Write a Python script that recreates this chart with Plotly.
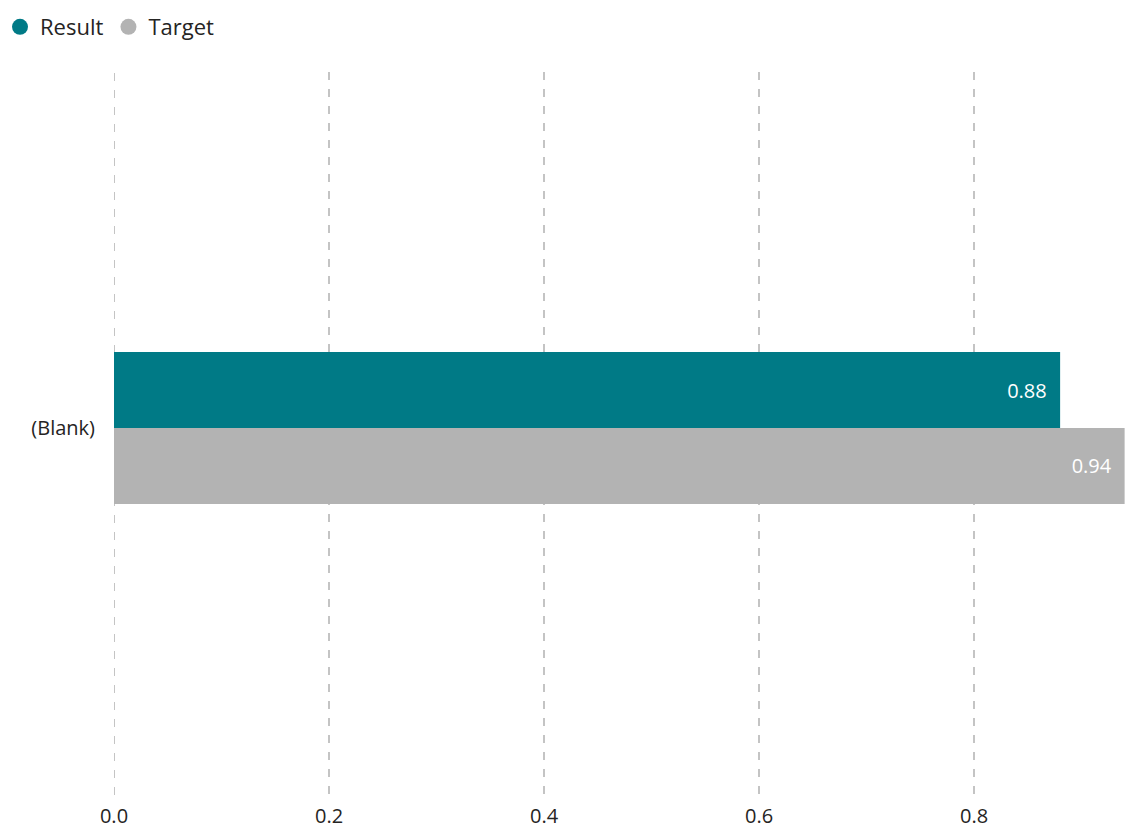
import plotly.graph_objects as go

categories = ["(Blank)"]
result_values = [0.88]
target_values = [0.94]
x_ticks = [0.0, 0.2, 0.4, 0.6, 0.8]
x_tick_labels = ["0.0", "0.2", "0.4", "0.6", "0.8"]

TEAL = "#007A86"
GRAY = "#B3B3B3"
GRID = "#C4C4C4"
FONT = "Open Sans, Noto Sans, sans-serif"
PAD = "\u00a0\u00a0"

W, H = 1132, 820
L, R, T, B = 106, 10, 64, 33
PH = H - T - B

fig = go.Figure()
# Target first so that Result sits on top in horizontal grouped mode
fig.add_trace(go.Bar(
    y=categories, x=target_values, orientation="h", name="Target",
    marker=dict(color=GRAY, line=dict(width=0)),
    text=[f"{v:.2f}{PAD}" for v in target_values], textposition="inside",
    insidetextanchor="end", textfont=dict(color="white", size=20, family=FONT),
    showlegend=False,
))
fig.add_trace(go.Bar(
    y=categories, x=result_values, orientation="h", name="Result",
    marker=dict(color=TEAL, line=dict(width=0)),
    text=[f"{v:.2f}{PAD}" for v in result_values], textposition="inside",
    insidetextanchor="end", textfont=dict(color="white", size=20, family=FONT),
    showlegend=False,
))
# legend entries with circle markers
for name, col in [("Result", TEAL), ("Target", GRAY)]:
    fig.add_trace(go.Scatter(x=[None], y=[None], mode="markers", name=name,
                             marker=dict(symbol="circle", size=18, color=col)))

# gridline at the left edge of the axis (plotly omits it at the boundary)
fig.add_shape(type="line", xref="x", yref="paper", x0=x_ticks[0], x1=x_ticks[0],
              y0=0, y1=1, layer="below",
              line=dict(color=GRID, width=2, dash="8px,9px"))

fig.update_layout(
    width=W, height=H,
    margin=dict(l=L, r=R, t=T, b=B, autoexpand=False),
    paper_bgcolor="white", plot_bgcolor="white",
    barmode="group", bargap=0.79, bargroupgap=0,
    font=dict(family=FONT, size=20, color="#252423"),
    legend=dict(orientation="h", x=-(L + 8) / (W - L - R), xanchor="left",
                y=1.0 + (T - 19) / PH, yanchor="middle",
                font=dict(size=22, color="#252423"), itemwidth=30,
                tracegroupgap=0, itemsizing="trace"),
    uniformtext=dict(mode="show", minsize=10),
)
fig.update_xaxes(
    range=[0, 0.945], tickvals=x_ticks, ticktext=x_tick_labels,
    showgrid=True, gridcolor=GRID, gridwidth=2, griddash="8px,9px",
    zeroline=False, showline=False, ticks="", ticklabelstandoff=7,
    tickfont=dict(size=20, color="#252423"),
)
fig.update_yaxes(
    range=[-0.5076, 0.4924],
    showgrid=False, zeroline=False, showline=False, ticks="",
    ticklabelstandoff=18, tickfont=dict(size=20, color="#252423"),
)

fig.write_html("out.html")
